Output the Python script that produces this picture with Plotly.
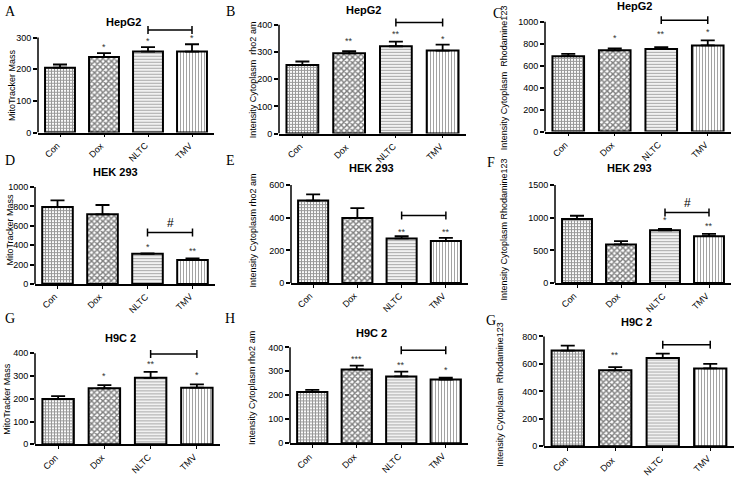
import plotly.graph_objects as go

W, H = 744, 480

groups = ["Con", "Dox", "NLTC", "TMV"]

# bar means and upper SEM per panel
hepg2_mito = [205, 239, 256, 256]
hepg2_mito_err = [10, 12, 14, 23]
hepg2_rho2 = [252, 295, 321, 305]
hepg2_rho2_err = [13, 8, 17, 22]
hepg2_rh123 = [687, 740, 752, 785]
hepg2_rh123_err = [20, 18, 18, 45]

hek_mito = [795, 719, 312, 247]
hek_mito_err = [68, 96, 4, 17]
hek_rho2 = [505, 398, 273, 257]
hek_rho2_err = [38, 61, 14, 20]
hek_rh123 = [980, 591, 808, 717]
hek_rh123_err = [50, 50, 20, 35]

h9c2_mito = [199, 246, 292, 249]
h9c2_mito_err = [13, 14, 26, 14]
h9c2_rho2 = [214, 308, 279, 266]
h9c2_rho2_err = [9, 16, 20, 8]
h9c2_rh123 = [697, 553, 644, 567]
h9c2_rh123_err = [36, 24, 31, 34]

# significance marks above bars
stars_a = ["", "*", "*", "*"]
stars_b = ["", "**", "**", "*"]
stars_c = ["", "*", "**", "*"]
stars_d = ["", "", "*", "**"]
stars_e = ["", "", "**", "**"]
stars_f = ["", "", "*", "**"]
stars_g = ["", "*", "**", "*"]
stars_h = ["", "***", "**", "*"]
stars_i = ["", "**", "", ""]

panels = [
    dict(letter="A", title="HepG2", ytitle="MitoTracker Mass", vals=hepg2_mito, errs=hepg2_mito_err,
         stars=stars_a, ticks=[0, 100, 200, 300], br=324, hash=None,
         geo=(38, 214, 134, 38, 22), lpos=(10, 12), tpos=(123, 22), ypos=(12, 86), star_off=[0, 32, 32, 42]),
    dict(letter="B", title="HepG2", ytitle="Intensity Cytoplasm  rho2 am", vals=hepg2_rho2, errs=hepg2_rho2_err,
         stars=stars_b, ticks=[0, 100, 200, 300, 400], br=408, hash=None,
         geo=(279, 466, 135, 25, 12), lpos=(230, 12), tpos=(363, 10), ypos=(253, 80), star_off=[0, 44, 44, 44]),
    dict(letter="C", title="HepG2", ytitle="Intensity Cytoplasm  Rhodamine123", vals=hepg2_rh123, errs=hepg2_rh123_err,
         stars=stars_c, ticks=[0, 200, 400, 600, 800, 1000], br=1015, hash=None,
         geo=(545, 731, 133, 22, 12), lpos=(498, 14), tpos=(634, 6), ypos=(504, 78), star_off=[0, 110, 135, 125]),
    dict(letter="D", title="HEK 293", ytitle="MitoTracker Mass", vals=hek_mito, errs=hek_mito_err,
         stars=stars_d, ticks=[0, 200, 400, 600, 800, 1000], br=531, hash=634,
         geo=(35, 215, 287, 189, 178), lpos=(10, 162), tpos=(115, 174), ypos=(10, 232), star_off=[0, 0, 65, 95]),
    dict(letter="E", title="HEK 293", ytitle="Intensity Cytoplasm rho2 am", vals=hek_rho2, errs=hek_rho2_err,
         stars=stars_e, ticks=[0, 200, 400, 600], br=414, hash=None,
         geo=(291, 468, 286, 187, 178), lpos=(230, 162), tpos=(371, 170), ypos=(253, 233), star_off=[0, 0, 40, 55]),
    dict(letter="F", title="HEK 293", ytitle="Intensity Cytoplasm Rhodamine123", vals=hek_rh123, errs=hek_rh123_err,
         stars=stars_f, ticks=[0, 500, 1000, 1500], br=1081, hash=1222,
         geo=(555, 731, 286, 187, 176), lpos=(491, 164), tpos=(629, 170), ypos=(504, 232), star_off=[0, 0, 150, 150]),
    dict(letter="G", title="H9C 2", ytitle="MitoTracker Mass", vals=h9c2_mito, errs=h9c2_mito_err,
         stars=stars_g, ticks=[0, 100, 200, 300, 400], br=397, hash=None,
         geo=(35, 220, 449, 357, 348), lpos=(10, 322), tpos=(120, 342), ypos=(7, 403), star_off=[0, 55, 62, 57]),
    dict(letter="H", title="H9C 2", ytitle="Intensity Cytoplasm rho2 am", vals=h9c2_rho2, errs=h9c2_rho2_err,
         stars=stars_h, ticks=[0, 100, 200, 300, 400], br=388, hash=None,
         geo=(290, 468, 448, 351, 343), lpos=(230, 322), tpos=(371, 336), ypos=(252, 392), star_off=[0, 42, 48, 40]),
    dict(letter="G", title="H9C 2", ytitle="Intensity Cytoplasm  Rhodamine123", vals=h9c2_rh123, errs=h9c2_rh123_err,
         stars=stars_i, ticks=[0, 200, 400, 600, 800], br=740, hash=None,
         geo=(544, 734, 451, 340, 332), lpos=(491, 324), tpos=(636, 325), ypos=(500, 398), star_off=[0, 112, 0, 0]),
]

# Con: fine grey grid, Dox: checker, NLTC: horizontal lines, TMV: vertical lines
pat_shape = ["+", "x", "-", "|"]
pat_size = [3, 4, 3, 3]
pat_sol = [0.6, 0.6, 0.45, 0.3]
pat_fg = ["#333333", "#000000", "#555555", "#333333"]

FONT = "Liberation Sans"

fig = go.Figure()
layout = dict(width=W, height=H, margin=dict(l=0, r=0, t=0, b=0),
              paper_bgcolor="white", plot_bgcolor="white", showlegend=False,
              font=dict(family=FONT, color="black"))
shapes, annos = [], []


def px(x):
    return x / W


def py(y):
    return 1 - y / H


for i, p in enumerate(panels):
    n = "" if i == 0 else str(i + 1)
    xa, ya = "x" + n, "y" + n
    xl, xr, pz, pt, ptop = p["geo"]
    top = p["ticks"][-1]
    rtop = top * (pz - ptop) / (pz - pt)

    fig.add_trace(go.Bar(
        x=groups, y=p["vals"], xaxis=xa, yaxis=ya, width=0.68,
        marker=dict(color="white", line=dict(color="black", width=2),
                    pattern=dict(shape=pat_shape, size=pat_size, solidity=pat_sol,
                                 fgcolor=pat_fg, bgcolor="white", fillmode="overlay")),
        error_y=dict(type="data", symmetric=False, array=p["errs"], arrayminus=[0] * 4,
                     color="black", thickness=1.8, width=7),
    ))

    layout["xaxis" + n] = dict(domain=[px(xl), px(xr)], anchor=ya, range=[-0.5, 3.5],
                               showline=True, linecolor="black", linewidth=1.5,
                               ticks="outside", ticklen=3, tickcolor="black",
                               showticklabels=False, showgrid=False, fixedrange=True)
    layout["yaxis" + n] = dict(domain=[py(pz), py(ptop)], anchor=xa, range=[0, rtop],
                               tickvals=p["ticks"], showline=False, ticks="outside",
                               ticklen=4, tickwidth=1.5, tickcolor="black",
                               tickfont=dict(size=9, family=FONT),
                               showgrid=False, zeroline=False, fixedrange=True)
    # y axis line stops at the top tick
    shapes.append(dict(type="line", xref=xa + " domain", yref=ya, x0=0, x1=0, y0=0, y1=top,
                       line=dict(color="black", width=1.5)))

    # slanted category labels
    for k, g in enumerate(groups):
        annos.append(dict(x=k, y=0, xref=xa, yref=ya, text=g, textangle=-45, showarrow=False,
                          xanchor="right", yanchor="top", xshift=5, yshift=-5,
                          font=dict(size=9, family=FONT)))

    # bracket NLTC - TMV
    br = p["br"]
    cap = (rtop / (pz - ptop)) * 4
    shapes.append(dict(type="line", xref=xa, yref=ya, x0=2, x1=3, y0=br, y1=br,
                       line=dict(color="black", width=1.5)))
    for cx in (2, 3):
        shapes.append(dict(type="line", xref=xa, yref=ya, x0=cx, x1=cx, y0=br - cap, y1=br + cap,
                           line=dict(color="black", width=1.5)))
    if p["hash"]:
        annos.append(dict(x=2.5, y=p["hash"], xref=xa, yref=ya, text="#", showarrow=False,
                          font=dict(size=12, family=FONT)))

    for k, s in enumerate(p["stars"]):
        if s:
            annos.append(dict(x=k, y=p["vals"][k] + p["star_off"][k], xref=xa, yref=ya, text=s,
                              showarrow=False, font=dict(size=9, color="#333333", family=FONT)))

    annos.append(dict(x=px(p["tpos"][0]), y=py(p["tpos"][1]), xref="paper", yref="paper",
                      xanchor="center", yanchor="middle",
                      text="<b>" + p["title"] + "</b>", showarrow=False,
                      font=dict(size=11, family=FONT)))
    annos.append(dict(x=px(p["lpos"][0]), y=py(p["lpos"][1]), xref="paper", yref="paper",
                      xanchor="center", yanchor="middle",
                      text=p["letter"], showarrow=False,
                      font=dict(size=14, family="Liberation Serif")))
    annos.append(dict(x=px(p["ypos"][0]), y=py(p["ypos"][1]), xref="paper", yref="paper",
                      xanchor="center", yanchor="middle",
                      text=p["ytitle"], textangle=-90, showarrow=False,
                      font=dict(size=9, family=FONT)))

layout["shapes"] = shapes
layout["annotations"] = annos
fig.update_layout(**layout)
# drop the default page margin so the figure sits at the window corner
fig.write_html("out.html", config={"displayModeBar": False},
               post_script="document.body.style.margin='0';")
